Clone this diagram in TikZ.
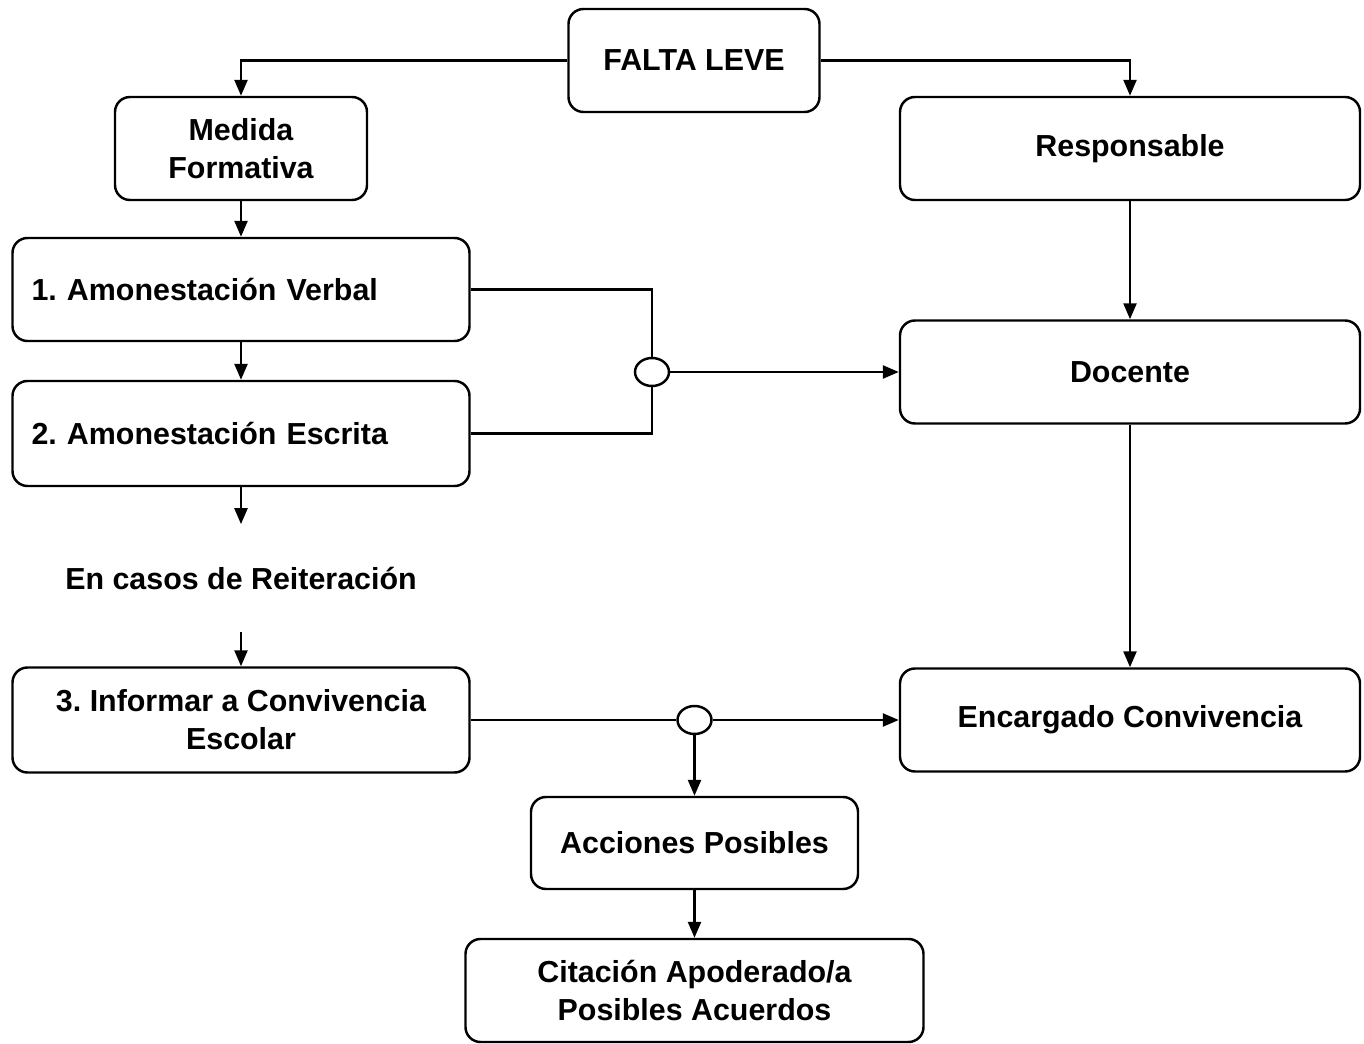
\documentclass[tikz,border=0pt]{standalone}
\usepackage{fontspec}
\setmainfont{Liberation Sans}
\usepackage{tikz}
\usetikzlibrary{shapes.geometric}
\usetikzlibrary{arrows.meta}
\frenchspacing

\tikzset{
    box/.style = {draw, line width = 1.4pt, rounded corners = 0.3cm, align = center,
        font = \fontsize{17.3}{21.6}\selectfont\bfseries, minimum height = 2.06cm},
    leftbox/.style = {box, text width = 8.38cm, inner xsep = 0.38cm, align = left},
    junction/.style = {draw, ellipse, line width = 1.4pt, fill = white,
        minimum width = 0.68cm, minimum height = 0.56cm, inner sep = 0pt},
    conn/.style = {line width = 1.4pt},
    arr/.style = {conn, -{Triangle[length = 0.32cm, width = 0.26cm]}}
}

\begin{document}
\begin{tikzpicture}
        \useasboundingbox (0, 0) rectangle (27.28, 20.86);

        \node[box, minimum width = 5.02cm] (falta) at (13.88, 19.65) {FALTA LEVE};
        \node[box, minimum width = 5.04cm] (medida) at (4.82, 17.89) {Medida\\Formativa};
        \node[box, minimum width = 9.2cm] (resp) at (22.6, 17.89) {Responsable};

        \node[leftbox] (amon1) at (4.82, 15.07) {1. Amonestación Verbal};
        \node[leftbox, minimum height = 2.1cm] (amon2) at (4.82, 12.19) {2. Amonestación Escrita};
        \node[font = \fontsize{17.3}{21.6}\selectfont\bfseries, minimum height = 2.14cm] (reit)
            at (4.82, 9.30) {En casos de Reiteración};
        \node[box, minimum width = 9.14cm, minimum height = 2.1cm] (amon3) at (4.82, 6.46)
            {3. Informar a Convivencia\\Escolar};

        \node[box, minimum width = 9.2cm] (docente) at (22.6, 13.42) {Docente};
        \node[box, minimum width = 9.2cm] (encargado) at (22.6, 6.46) {Encargado Convivencia};

        \node[box, minimum width = 6.54cm, minimum height = 1.84cm] (acciones) at (13.89, 4.0)
            {Acciones Posibles};
        \node[box, minimum width = 9.16cm] (citacion) at (13.89, 1.05)
            {Citación Apoderado/a\\Posibles Acuerdos};

        \node[junction] (c1) at (13.04, 13.42) {};
        \node[junction] (c2) at (13.89, 6.46) {};

        % falta leve
        \draw[arr] (falta.west) -| (medida.north);
        \draw[arr] (falta.east) -| (resp.north);

        % medida formativa
        \draw[arr] (medida) -- (amon1);
        \draw[arr] (amon1) -- (amon2);
        \draw[arr] (amon2) -- (reit);
        \draw[arr] (reit) -- (amon3);

        \draw[conn] (amon1.east) -| (c1.north);
        \draw[conn] (amon2.east) -| (c1.south);
        \draw[arr] (c1.east) -- (docente.west);

        % responsable
        \draw[arr] (resp) -- (docente);
        \draw[arr] (docente) -- (encargado);

        \draw[conn] (amon3.east) -- (c2.west);
        \draw[arr] (c2.east) -- (encargado.west);
        \draw[arr] (c2.south) -- (acciones.north);
        \draw[arr] (acciones) -- (citacion);
    \end{tikzpicture}
\end{document}
